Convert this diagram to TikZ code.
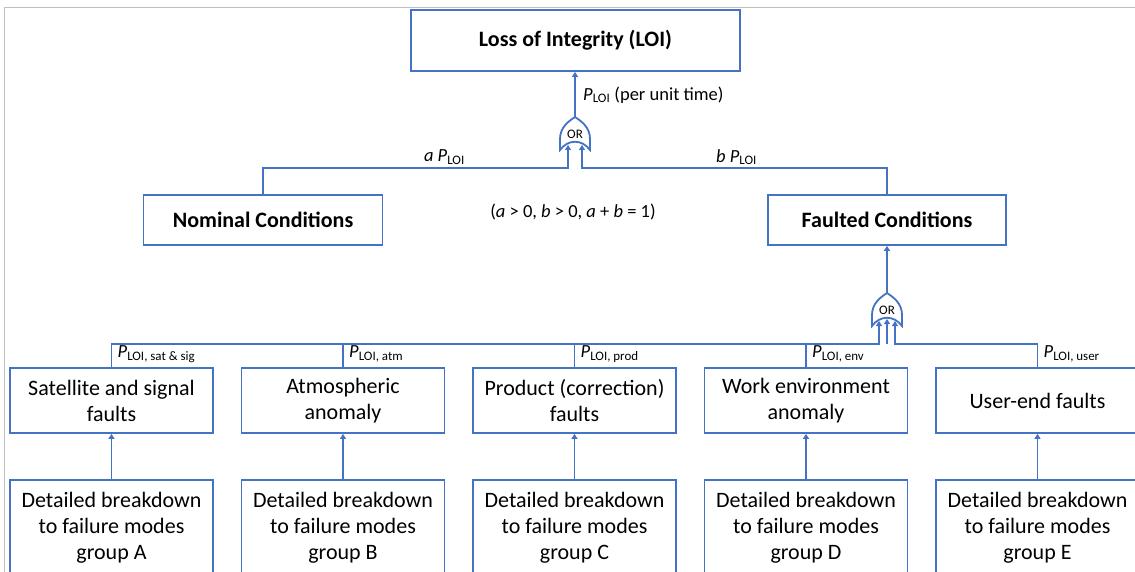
\documentclass[tikz,border=0pt]{standalone}
\usepackage{fontspec}
\setmainfont{Carlito}
\usetikzlibrary{arrows.meta, positioning}
\definecolor{ftblue}{RGB}{68,114,196}

\begin{document}
\begin{tikzpicture}[
    x=1pt, y=-1pt,
    node distance=26.7pt,
    box/.style={draw=ftblue, line width=1.8pt, fill=white, align=center, inner sep=0pt,
        font=\fontsize{22}{26}\selectfont},
    head/.style={box, font=\fontsize{22}{26}\selectfont\bfseries},
    fault/.style={box, minimum width=203pt, minimum height=65pt},
    detail/.style={box, minimum width=203pt, minimum height=96pt},
    link/.style={draw=ftblue, line width=1.8pt},
    arr/.style={link, -{Triangle[length=5pt, width=6pt]}},
    lbl/.style={font=\fontsize{18.5}{21}\selectfont, inner sep=0pt},
    orgate/.pic={
        \draw[link, fill=white] (-15,33) -- (-15,22) .. controls (-15,10) and (-6,4) .. (0,0)
            .. controls (6,4) and (15,10) .. (15,22) -- (15,33)
            .. controls (7,22) and (-7,22) .. cycle;
        \node[font=\fontsize{13}{14}\selectfont, inner sep=0pt] (-txt) at (0,17) {OR};
    }
]
    \clip (0,0) rectangle (1135,572);
    \draw[gray!50, line width=1pt] (4,572) -- (4,8) -- (1135,8);

    % top event and the two conditions
    \node[head, minimum width=329pt, minimum height=61pt] (loi) at (575.5,40.5) {Loss of Integrity (LOI)};
    \node[head, minimum width=239pt, minimum height=50pt] (nom) at (263,220) {Nominal Conditions};
    \node[head, minimum width=238pt, minimum height=50pt] (flt) at (887,220) {Faulted Conditions};

    % fault groups
    \node[fault] (sat) at (111.5,400.5) {Satellite and signal\\faults};
    \node[fault, right=of sat] (atm) {Atmospheric\\anomaly};
    \node[fault, right=of atm] (prod) {Product (correction)\\faults};
    \node[fault, right=of prod] (env) {Work environment\\anomaly};
    \node[fault, right=of env] (user) {User-end faults};

    \foreach \f/\g in {sat/A, atm/B, prod/C, env/D, user/E} {
        \node[detail, below=45.2pt of \f] (d\g) {Detailed breakdown\\to failure modes\\group \g};
        \draw[arr] (d\g.north) -- (\f.south);
    }

    % gates
    \pic (g1) at (575,117) {orgate};
    \pic (g2) at (887,293) {orgate};
    \coordinate (g1out) at (575,117);
    \coordinate (g2out) at (887,293);
    \coordinate (g1a) at (568,145);
    \coordinate (g1b) at (582,145);
    \coordinate (g2a) at (879,321);
    \coordinate (g2b) at (887,319);
    \coordinate (g2c) at (895,321);
    \coordinate (bus1) at (0,168);
    \coordinate (bus2) at (0,344);

    \draw[arr] (g1out) -- (g1out |- loi.south);
    \draw[arr] (nom.north) |- (g1a |- bus1) -- (g1a);
    \draw[arr] (flt.north) |- (g1b |- bus1) -- (g1b);
    \draw[arr] (g2out) -- (g2out |- flt.south);
    \draw[arr] (sat.north) |- (g2a |- bus2) -- (g2a);
    \draw[arr] (user.north) |- (g2c |- bus2) -- (g2c);
    \draw[arr] (g2b |- bus2) -- (g2b);
    \foreach \f in {atm, prod, env}
        \draw[link] (\f.north) -- (\f.north |- bus2);

    % probabilities
    \node[lbl, anchor=west] (lp) at (583,95) {\textit{P}\textsubscript{LOI} (per unit time)};
    \node[lbl, anchor=east] (la) at (465,157) {\textit{a P}\textsubscript{LOI}};
    \node[lbl, anchor=west] (lb) at (716,157) {\textit{b P}\textsubscript{LOI}};
    \node[lbl] (cond) at (573,212) {(\textit{a} > 0, \textit{b} > 0, \textit{a} + \textit{b} = 1)};
    \foreach \f/\s in {sat/{sat \& sig}, atm/atm, prod/prod, env/env, user/user}
        \node[lbl, anchor=west] (l\f) at ([xshift=6pt, yshift=13pt]\f.north) {\textit{P}\textsubscript{LOI, \s}};
\end{tikzpicture}
\end{document}
